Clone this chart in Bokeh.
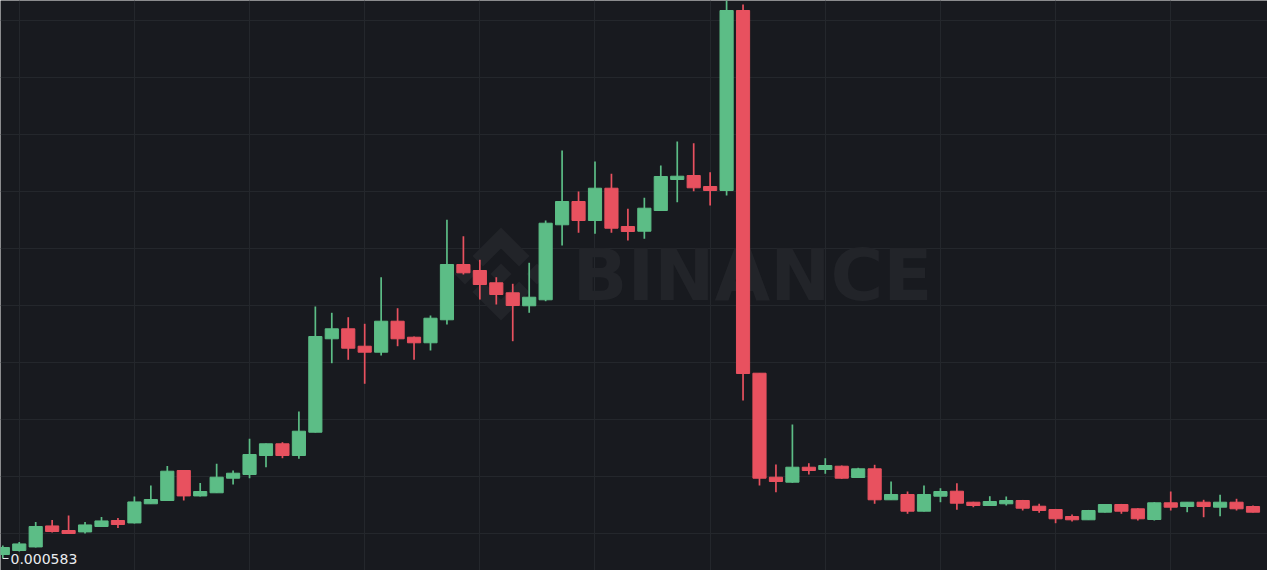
from bokeh.plotting import figure
from bokeh.models import Range1d, FixedTicker, Label, PolyAnnotation, ColumnDataSource
from bokeh.embed import file_html
from bokeh.resources import INLINE

# ---- data (daily candles, price) ----
opens = [5.858e-4, 5.886e-4, 5.911e-4, 6.058e-4, 6.026e-4, 6.016e-4, 6.054e-4, 6.096e-4, 6.079e-4, 6.213e-4,
         6.236e-4, 6.446e-4, 6.268e-4, 6.290e-4, 6.392e-4, 6.418e-4, 6.551e-4, 6.633e-4, 6.551e-4, 6.714e-4,
         7.368e-4, 7.438e-4, 7.316e-4, 7.274e-4, 7.491e-4, 7.379e-4, 7.340e-4, 7.501e-4, 7.888e-4, 7.846e-4,
         7.760e-4, 7.690e-4, 7.599e-4, 7.641e-4, 8.166e-4, 8.329e-4, 8.196e-4, 8.422e-4, 8.154e-4, 8.121e-4,
         8.266e-4, 8.483e-4, 8.511e-4, 8.434e-4, 8.406e-4, 9.666e-4, 7.127e-4, 6.399e-4, 6.364e-4, 6.469e-4,
         6.453e-4, 6.476e-4, 6.397e-4, 6.458e-4, 6.241e-4, 6.278e-4, 6.161e-4, 6.266e-4, 6.301e-4, 6.224e-4,
         6.201e-4, 6.213e-4, 6.236e-4, 6.196e-4, 6.173e-4, 6.124e-4, 6.101e-4, 6.154e-4, 6.208e-4, 6.178e-4,
         6.103e-4, 6.220e-4, 6.194e-4, 6.224e-4, 6.189e-4, 6.224e-4, 6.194e-4]
highs = [5.921e-4, 5.946e-4, 6.086e-4, 6.100e-4, 6.131e-4, 6.086e-4, 6.121e-4, 6.114e-4, 6.264e-4, 6.341e-4,
         6.478e-4, 6.450e-4, 6.359e-4, 6.493e-4, 6.446e-4, 6.668e-4, 6.635e-4, 6.644e-4, 6.859e-4, 7.594e-4,
         7.550e-4, 7.519e-4, 7.473e-4, 7.799e-4, 7.582e-4, 7.384e-4, 7.531e-4, 8.201e-4, 8.086e-4, 7.921e-4,
         7.799e-4, 7.753e-4, 7.900e-4, 8.196e-4, 8.686e-4, 8.399e-4, 8.609e-4, 8.523e-4, 8.278e-4, 8.355e-4,
         8.581e-4, 8.749e-4, 8.737e-4, 8.534e-4, 9.792e-4, 9.708e-4, 7.127e-4, 6.488e-4, 6.768e-4, 6.497e-4,
         6.532e-4, 6.481e-4, 6.465e-4, 6.486e-4, 6.369e-4, 6.299e-4, 6.341e-4, 6.322e-4, 6.357e-4, 6.227e-4,
         6.266e-4, 6.264e-4, 6.240e-4, 6.213e-4, 6.177e-4, 6.138e-4, 6.170e-4, 6.212e-4, 6.212e-4, 6.182e-4,
         6.224e-4, 6.299e-4, 6.225e-4, 6.241e-4, 6.276e-4, 6.248e-4, 6.201e-4]
lows = [5.830e-4, 5.879e-4, 5.907e-4, 6.012e-4, 6.002e-4, 6.005e-4, 6.051e-4, 6.044e-4, 6.075e-4, 6.212e-4,
        6.233e-4, 6.236e-4, 6.264e-4, 6.289e-4, 6.348e-4, 6.392e-4, 6.469e-4, 6.532e-4, 6.528e-4, 6.712e-4,
        7.197e-4, 7.221e-4, 7.053e-4, 7.251e-4, 7.316e-4, 7.221e-4, 7.286e-4, 7.468e-4, 7.818e-4, 7.643e-4,
        7.608e-4, 7.351e-4, 7.550e-4, 7.631e-4, 8.021e-4, 8.110e-4, 8.103e-4, 8.110e-4, 8.056e-4, 8.068e-4,
        8.263e-4, 8.324e-4, 8.401e-4, 8.301e-4, 8.371e-4, 6.936e-4, 6.341e-4, 6.294e-4, 6.360e-4, 6.418e-4,
        6.423e-4, 6.388e-4, 6.394e-4, 6.213e-4, 6.240e-4, 6.143e-4, 6.159e-4, 6.224e-4, 6.171e-4, 6.189e-4,
        6.198e-4, 6.201e-4, 6.166e-4, 6.150e-4, 6.077e-4, 6.089e-4, 6.100e-4, 6.152e-4, 6.143e-4, 6.096e-4,
        6.096e-4, 6.166e-4, 6.154e-4, 6.119e-4, 6.126e-4, 6.166e-4, 6.152e-4]
closes = [5.907e-4, 5.932e-4, 6.054e-4, 6.019e-4, 6.005e-4, 6.065e-4, 6.093e-4, 6.068e-4, 6.226e-4, 6.243e-4,
          6.441e-4, 6.268e-4, 6.299e-4, 6.399e-4, 6.427e-4, 6.558e-4, 6.633e-4, 6.551e-4, 6.721e-4, 7.384e-4,
          7.438e-4, 7.302e-4, 7.274e-4, 7.491e-4, 7.368e-4, 7.340e-4, 7.512e-4, 7.888e-4, 7.830e-4, 7.748e-4,
          7.678e-4, 7.601e-4, 7.659e-4, 8.177e-4, 8.329e-4, 8.196e-4, 8.422e-4, 8.142e-4, 8.119e-4, 8.282e-4,
          8.504e-4, 8.506e-4, 8.425e-4, 8.406e-4, 9.666e-4, 7.125e-4, 6.392e-4, 6.369e-4, 6.469e-4, 6.446e-4,
          6.481e-4, 6.392e-4, 6.458e-4, 6.241e-4, 6.278e-4, 6.161e-4, 6.278e-4, 6.299e-4, 6.217e-4, 6.201e-4,
          6.229e-4, 6.236e-4, 6.182e-4, 6.166e-4, 6.108e-4, 6.101e-4, 6.166e-4, 6.208e-4, 6.161e-4, 6.108e-4,
          6.220e-4, 6.189e-4, 6.224e-4, 6.194e-4, 6.224e-4, 6.178e-4, 6.154e-4]

BG = "#181a1f"
GRID = "#24272c"
WM = "#222429"
UP = "#5cbd86"
DOWN = "#e8515f"
TXT = "#eaecef"

n = len(opens)
idx = list(range(n))
colors = [UP if c >= o else DOWN for o, c in zip(opens, closes)]
src = ColumnDataSource(dict(
    x=idx, open=opens, close=closes, high=highs, low=lows,
    top=[max(o, c) for o, c in zip(opens, closes)],
    bottom=[min(o, c) for o, c in zip(opens, closes)],
    color=colors,
))

W, H = 1267, 570
p = figure(width=W, height=H, output_backend="svg", toolbar_location=None,
           x_range=Range1d(-0.1398, 76.882), y_range=Range1d(5.746e-4, 9.736e-4),
           x_axis_location=None, y_axis_location=None, min_border=0,
           background_fill_color=BG, border_fill_color=BG, outline_line_color=None)

p.xgrid.ticker = FixedTicker(ticks=list(range(1, 80, 7)))
p.ygrid.ticker = FixedTicker(ticks=[(6005 + 399 * k) * 1e-7 for k in range(-1, 11)])
p.grid.grid_line_color = GRID
p.grid.grid_line_width = 1

# watermark logo (Binance diamond) in screen units
logo = [
    [(38.73, 53.2), (63.3, 28.64), (87.89, 53.22), (102.19, 38.92), (63.3, 0), (24.42, 38.9)],
    [(0, 63.31), (14.3, 49.01), (28.6, 63.31), (14.3, 77.61)],
    [(49.0, 63.31), (63.3, 49.01), (77.6, 63.31), (63.3, 77.61)],
    [(97.99, 63.31), (112.29, 49.01), (126.59, 63.3), (112.29, 77.6)],
    [(87.89, 73.41), (63.3, 98), (38.73, 73.42), (24.41, 87.7), (63.3, 126.6), (102.19, 87.7)],
]
sc = 0.735
for poly in logo:
    p.add_layout(PolyAnnotation(
        xs=[454 + sc * s for s, t in poly], ys=[343 - sc * t for s, t in poly],
        xs_units="screen", ys_units="screen", fill_color=WM, fill_alpha=1.0,
        line_color=None, level="underlay"))

p.add_layout(Label(x=572, y=296, x_units="screen", y_units="screen", text="BINANCE",
                   text_font="DejaVu Sans", text_font_style="bold",
                   text_font_size="72px", text_color=WM, text_baseline="middle",
                   level="underlay"))

p.segment(x0="x", y0="low", x1="x", y1="high", source=src, line_color="color", line_width=1.7)
p.vbar(x="x", width=0.8, top="top", bottom="bottom", source=src,
       fill_color="color", line_color="color", line_width=1)

# lowest-price marker
lo = min(lows)
ilo = lows.index(lo)
p.segment(x0=[ilo], y0=[lo], x1=[ilo + 0.35], y1=[lo], line_color=TXT, line_width=1)
p.add_layout(Label(x=10, y=12, x_units="screen", y_units="screen",
                   text=f"{lo:.6f}", text_font="DejaVu Sans",
                   text_font_size="14px", text_color=TXT, text_baseline="middle"))

open("out.html", "w").write(file_html(p, INLINE))
